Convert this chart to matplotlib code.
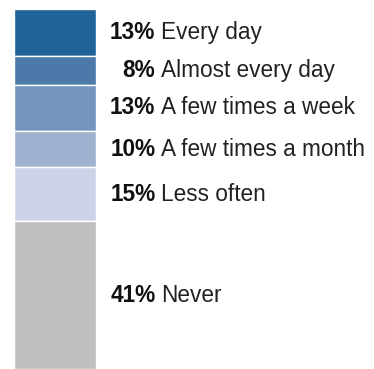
import matplotlib
matplotlib.use('Agg')
from matplotlib import pyplot as plt
import numpy as np

# how often people do it, top of the bar first
categories = ['Every day', 'Almost every day', 'A few times a week',
              'A few times a month', 'Less often', 'Never']
shares = [13, 8, 13, 10, 15, 41]
colors = ['#1f6399', '#4a79aa', '#7395be', '#9eb1cf', '#cdd4e7', '#bfbfc1']

W, H = 374, 369
fig = plt.figure(figsize=(W / 100, H / 100), dpi=100)
# bar runs from 9px below the top edge to the bottom edge
ax = fig.add_axes([0, 0, 1, (H - 9) / H])
ax.set_xlim(0, W)
ax.set_ylim(100, 0)
ax.axis('off')

bottoms = np.concatenate([[0], np.cumsum(shares)[:-1]])
ax.bar(55.5, shares, width=82, bottom=bottoms, color=colors,
       edgecolor='white', linewidth=1.0)

for cat, val, b in zip(categories, shares, bottoms):
    y = b + val / 2
    ax.text(155.5, y, '%d%%' % val, ha='right', va='center',
            fontsize=16.3, fontweight='bold', family='Liberation Sans',
            color='#111111')
    ax.text(161, y, cat, ha='left', va='center', fontsize=16.3,
            family='Liberation Sans', color='#222222')

fig.savefig('out.png', dpi=100)
